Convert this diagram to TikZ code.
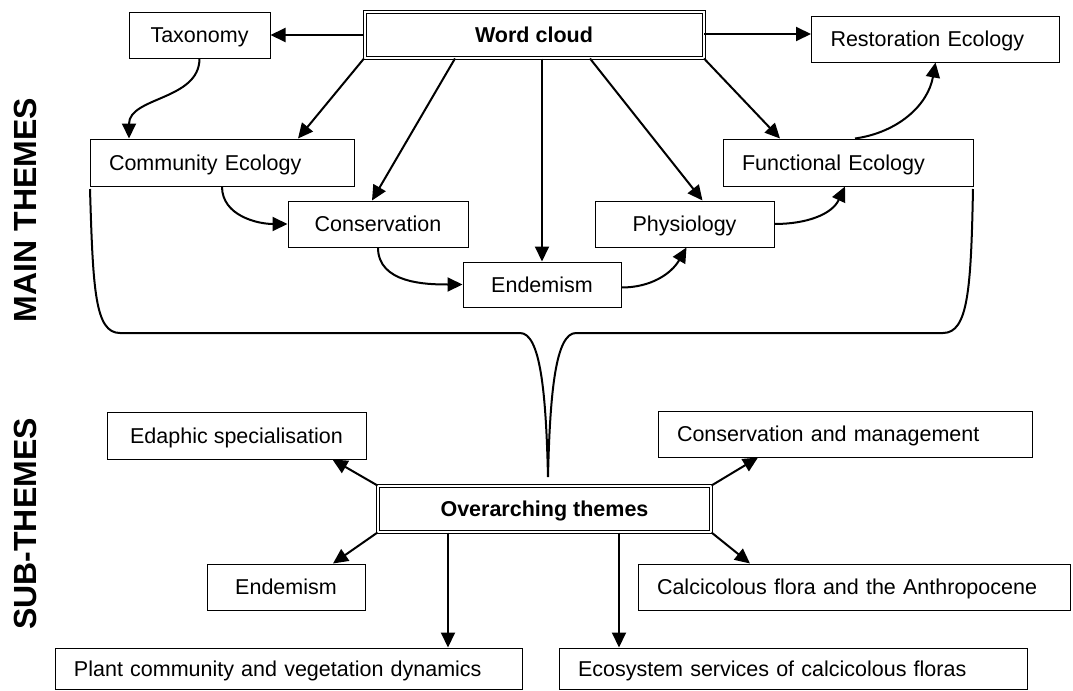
\documentclass[tikz,border=0pt]{standalone}
\usepackage{fontspec}
\setmainfont{Liberation Sans}
\usepackage{tikz}
\usetikzlibrary{arrows.meta}

\newcommand{\boxfont}{\fontsize{10.75}{13}\selectfont}
\tikzset{
	themebox/.style={draw, line width=0.5pt, minimum height=23pt, inner xsep=9.5pt, text height=7.7pt, text depth=0pt, font=\boxfont},
	lbox/.style={themebox, text width=#1, align=left},
	cbox/.style={themebox, minimum width=#1},
	dbox/.style={themebox, double, double distance=1pt, minimum width=#1, font=\boxfont\bfseries},
	arr/.style={-{Triangle[length=7.5pt,width=7pt]}, line width=1pt},
	sidelabel/.style={rotate=90, font=\fontsize{16}{18}\selectfont\bfseries}
}

\begin{document}
\begin{tikzpicture}[x=0.5pt, y=-0.5pt]
			%%Location
			\useasboundingbox (0,0) rectangle (1073,691);
			%%Side labels
			\node[sidelabel] (mainlab) at (25,210) {MAIN THEMES};
			\node[sidelabel] (sublab) at (25,524) {SUB-THEMES};
			%%Main themes
			\node[dbox=169.5pt] (wc) at (534,35) {Word cloud};
			\node[cbox=70.5pt] (tax) at (199.5,35) {Taxonomy};
			\node[lbox=105pt] (rest) at (935.5,39) {Restoration Ecology};
			\node[lbox=113pt, minimum height=23.5pt] (comm) at (222,162.5) {Community Ecology};
			\node[lbox=106pt, minimum height=23.5pt] (func) at (848,162.5) {Functional Ecology};
			\node[cbox=90pt] (cons) at (378,224) {Conservation};
			\node[cbox=89.5pt] (phys) at (684.5,224) {Physiology};
			\node[cbox=79pt, minimum height=22.5pt] (endm) at (542,284.5) {Endemism};
			%%Sub-themes
			\node[dbox=166.5pt] (ov) at (544.5,509) {Overarching themes};
			\node[cbox=129.5pt, minimum height=23.5pt] (edaph) at (236.5,435.5) {Edaphic specialisation};
			\node[lbox=168pt] (cmgmt) at (845,434) {Conservation and management};
			\node[cbox=79pt] (ends) at (286,587) {Endemism};
			\node[lbox=197pt] (calc) at (854,587) {Calcicolous flora and the Anthropocene};
			\node[lbox=214.5pt, minimum height=20.5pt] (plant) at (288.5,668.5) {Plant community and vegetation dynamics};
			\node[lbox=215pt, minimum height=20.5pt] (eco) at (793,668.5) {Ecosystem services of calcicolous floras};
			%%Arrows from the word cloud
			\draw[arr] (wc.west) -- (tax.east);
			\draw[arr] ([yshift=0.5pt]wc.east) -- ([yshift=0.5pt]wc.east -| rest.west);
			\draw[arr] (wc.south west) -- ([xshift=38pt]comm.north);
			\draw[arr] ([xshift=-39.5pt]wc.south) -- ([xshift=-3pt]cons.north);
			\draw[arr] (endm.north |- wc.south) -- (endm.north);
			\draw[arr] ([xshift=28pt]wc.south) -- ([xshift=9pt]phys.north);
			\draw[arr] (wc.south east) -- ([xshift=-34pt]func.north);
			%%Chain of main themes
			\draw[arr] (tax.south) to[out=-90,in=90] ([xshift=-46.5pt]comm.north);
			\draw[arr] (comm.south) to[out=-90,in=180] (cons.west);
			\draw[arr] (cons.south) to[out=-90,in=180] (endm.west);
			\draw[arr] ([yshift=-1.5pt]endm.east) to[out=0,in=-120] ([xshift=1pt]phys.south);
			\draw[arr] (phys.east) to[out=0,in=-115] ([xshift=-1.5pt]func.south);
			\draw[arr] ([xshift=3.5pt]func.north) to[out=8,in=-100] (rest.south);
			%%Brace
			\draw[line width=1pt] (90,189) .. controls (93,290) and (95,333) .. (120,333) -- (520,333)
				.. controls (540,333) and (546,390) .. (548,477)
				.. controls (550,390) and (556,333) .. (576,333) -- (943,333)
				.. controls (968,333) and (971,290) .. (973,189);
			%%Arrows to the sub-themes
			\draw[arr] (ov.north west) -- ([xshift=48pt]edaph.south);
			\draw[arr] (ov.north east) -- ([xshift=-43.5pt]cmgmt.south);
			\draw[arr] (ov.south west) -- ([xshift=23.5pt]ends.north);
			\draw[arr] (ov.south east) -- ([xshift=-52pt]calc.north);
			\draw[arr] ([xshift=-48.25pt]ov.south) -- ([xshift=79.75pt]plant.north);
			\draw[arr] ([xshift=37.25pt]ov.south) -- ([xshift=-87pt]eco.north);
\end{tikzpicture}
\end{document}
